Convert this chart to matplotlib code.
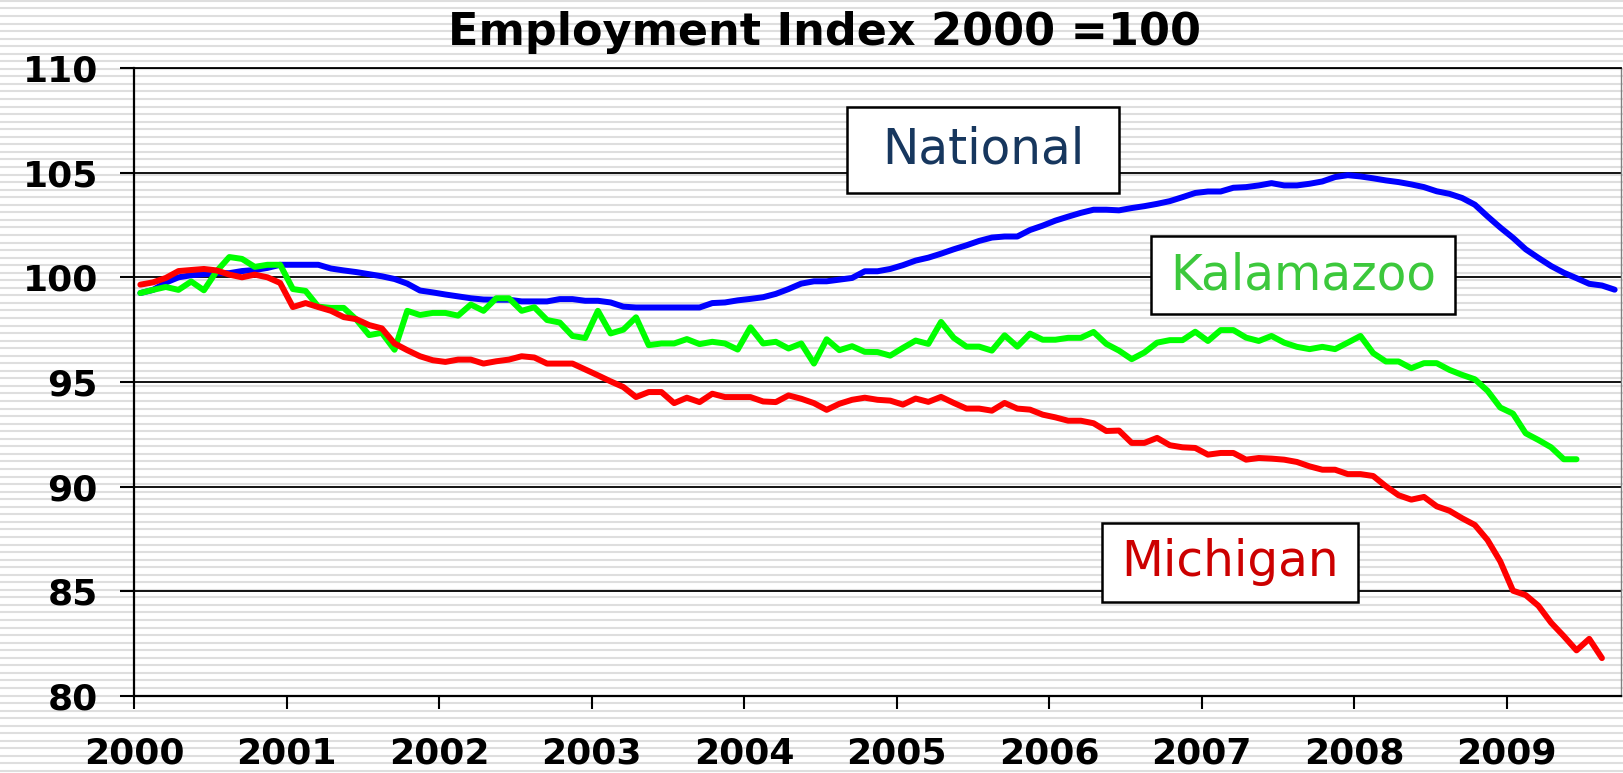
import numpy as np
import matplotlib
matplotlib.use('Agg')
import matplotlib.pyplot as plt
from matplotlib.patches import Rectangle

# Monthly index values, Jan 2000 onward (2000 = 100)
years = [str(y) for y in range(2000, 2010)]

national = [99.25, 99.4, 99.75, 100.0, 100.1, 100.15, 100.2, 100.2, 100.3, 100.35,
            100.45, 100.6, 100.6, 100.6, 100.6, 100.42, 100.33, 100.25, 100.15, 100.05,
            99.92, 99.7, 99.37, 99.28, 99.18, 99.09, 99.0, 98.94, 98.93, 98.93,
            98.85, 98.85, 98.85, 98.96, 98.96, 98.88, 98.88, 98.8, 98.6, 98.56,
            98.56, 98.56, 98.56, 98.56, 98.56, 98.77, 98.8, 98.9, 98.97, 99.05,
            99.21, 99.44, 99.7, 99.81, 99.81, 99.89, 99.97, 100.29, 100.29, 100.4,
            100.58, 100.8, 100.94, 101.13, 101.34, 101.53, 101.74, 101.9, 101.95, 101.95,
            102.26, 102.47, 102.71, 102.9, 103.08, 103.23, 103.23, 103.2, 103.31, 103.4,
            103.51, 103.64, 103.83, 104.03, 104.1, 104.1, 104.28, 104.31, 104.39, 104.5,
            104.39, 104.39, 104.47, 104.58, 104.79, 104.88, 104.82, 104.73, 104.63, 104.55,
            104.44, 104.31, 104.11, 103.99, 103.79, 103.47, 102.91, 102.38, 101.89, 101.34,
            100.93, 100.54, 100.22, 99.96, 99.69, 99.61, 99.41]

michigan = [99.65, 99.76, 99.97, 100.3, 100.35, 100.4, 100.33, 100.13, 100.0, 100.13,
            100.0, 99.73, 98.58, 98.77, 98.58, 98.4, 98.1, 98.0, 97.72, 97.56,
            96.84, 96.52, 96.23, 96.04, 95.96, 96.07, 96.07, 95.88, 95.99, 96.07,
            96.23, 96.17, 95.88, 95.88, 95.88, 95.6, 95.32, 95.03, 94.76, 94.28,
            94.52, 94.52, 93.99, 94.25, 94.04, 94.44, 94.28, 94.28, 94.28, 94.07,
            94.04, 94.36, 94.2, 93.99, 93.67, 93.96, 94.15, 94.25, 94.15, 94.11,
            93.92, 94.21, 94.05, 94.29, 94.0, 93.73, 93.73, 93.63, 94.0, 93.73,
            93.68, 93.44, 93.31, 93.15, 93.15, 93.03, 92.66, 92.68, 92.09, 92.09,
            92.33, 91.98, 91.88, 91.85, 91.53, 91.61, 91.61, 91.29, 91.37, 91.34,
            91.29, 91.18, 90.97, 90.81, 90.81, 90.6, 90.6, 90.51, 90.02, 89.59,
            89.38, 89.51, 89.06, 88.85, 88.49, 88.17, 87.45, 86.43, 85.03, 84.82,
            84.31, 83.5, 82.86, 82.18, 82.73, 81.81]

kalamazoo = [99.25, 99.4, 99.54, 99.4, 99.8, 99.38, 100.29, 100.97, 100.88, 100.5,
             100.6, 100.6, 99.44, 99.35, 98.6, 98.54, 98.54, 97.98, 97.24, 97.35,
             96.54, 98.4, 98.2, 98.3, 98.3, 98.17, 98.7, 98.4, 99.0, 99.0,
             98.4, 98.57, 97.96, 97.84, 97.2, 97.1, 98.4, 97.32, 97.5, 98.09,
             96.76, 96.84, 96.84, 97.05, 96.81, 96.92, 96.84, 96.55, 97.61, 96.84,
             96.92, 96.6, 96.84, 95.88, 97.04, 96.52, 96.71, 96.44, 96.43, 96.26,
             96.63, 96.98, 96.82, 97.87, 97.11, 96.69, 96.69, 96.5, 97.23, 96.69,
             97.31, 97.02, 97.02, 97.11, 97.11, 97.39, 96.82, 96.5, 96.09, 96.41,
             96.88, 97.0, 97.0, 97.4, 96.96, 97.48, 97.48, 97.12, 96.96, 97.2,
             96.88, 96.68, 96.57, 96.68, 96.57, 96.88, 97.2, 96.38, 95.98, 95.98,
             95.66, 95.9, 95.9, 95.58, 95.34, 95.13, 94.58, 93.78, 93.49, 92.55,
             92.23, 91.88, 91.31, 91.31]

W, H = 1623, 773
fig = plt.figure(figsize=(W / 100, H / 100), dpi=100)

# striped background (the slide texture)
bg = fig.add_axes([0, 0, 1, 1], zorder=-10)
bg.set_xlim(0, 1)
bg.set_ylim(0, H)
for yy in np.arange(2, H, 7.55):
    bg.axhline(yy, color='#dedede', lw=1.5)
bg.axis('off')

ax = fig.add_axes([134 / W, 1 - 696 / H, (1621 - 134) / W, (696 - 68) / H])
ax.set_facecolor('none')

lw = 4.3
ax.plot(np.arange(len(national)) + 0.5, national, color='#0000ff', lw=lw,
        solid_joinstyle='round', solid_capstyle='round', zorder=3)
ax.plot(np.arange(len(kalamazoo)) + 0.5, kalamazoo, color='#00ff00', lw=lw,
        solid_joinstyle='round', solid_capstyle='round', zorder=3)
ax.plot(np.arange(len(michigan)) + 0.5, michigan, color='#ff0000', lw=lw,
        solid_joinstyle='round', solid_capstyle='round', zorder=3)

ax.set_xlim(0, 117)
ax.set_ylim(80, 110)
ax.set_yticks(range(80, 111, 5))
ax.set_xticks(np.arange(0, 117, 12))
ax.set_xticklabels(years)
ax.yaxis.grid(True, color='black', lw=1.3)
ax.set_axisbelow(True)

for lab in ax.get_xticklabels() + ax.get_yticklabels():
    lab.set_fontsize(26)
    lab.set_fontweight('bold')
ax.tick_params(axis='y', length=10, width=1.5, pad=16, direction='out')
ax.tick_params(axis='x', length=9, width=1.5, pad=20, direction='out')

ax.spines['left'].set_linewidth(1.6)
ax.spines['bottom'].set_linewidth(1.6)
ax.spines['top'].set_linewidth(1.3)
ax.spines['right'].set_color('#808080')
ax.spines['right'].set_linewidth(1.0)

fig.text(0.508, 0.958, 'Employment Index 2000 =100', ha='center', va='center',
         fontsize=32, fontweight='bold')

# series label boxes
labels = [('National', '#17375e', 847, 107, 1119, 193),
          ('Kalamazoo', '#3cc83c', 1151, 236, 1455, 314),
          ('Michigan', '#cc0000', 1102, 523, 1358, 602)]
for name, col, x0, y0, x1, y1 in labels:
    fig.add_artist(Rectangle((x0 / W, 1 - y1 / H), (x1 - x0) / W, (y1 - y0) / H,
                             transform=fig.transFigure, facecolor='white',
                             edgecolor='black', lw=1.8, zorder=5))
    fig.text((x0 + x1) / 2 / W, 1 - (y0 + y1) / 2 / H, name, color=col,
             fontsize=35, ha='center', va='center', zorder=6)

fig.savefig('out.png', dpi=100)
